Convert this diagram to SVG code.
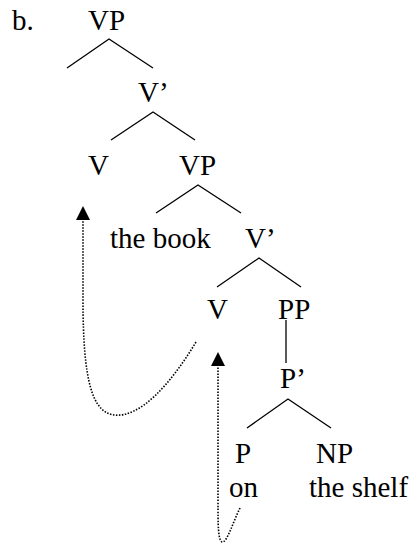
<svg xmlns="http://www.w3.org/2000/svg" width="414" height="546" viewBox="0 0 414 546">
<style>
text{font-family:"Liberation Serif","Times New Roman",serif;font-size:29px;fill:#000}
.e{stroke:#000;stroke-width:1.3;fill:none}
.d{stroke:#000;stroke-width:1.6;fill:none;stroke-dasharray:1.5 1.5}
</style>
<defs>
<marker id="ah" viewBox="0 0 14 14" refX="0" refY="7" markerWidth="14" markerHeight="14" markerUnits="userSpaceOnUse" orient="auto">
<path d="M0,0 L14,7 L0,14 Z" fill="#000"/>
</marker>
</defs>
<text x="12" y="30">b.</text>
<g id="n-vp1"><text x="88" y="30">VP</text></g>
<g id="n-vbar1"><text x="138" y="102">V’</text></g>
<g id="n-v1"><text x="88" y="175">V</text></g>
<g id="n-vp2"><text x="179" y="175">VP</text></g>
<g id="n-thebook"><text x="110" y="248">the book</text></g>
<g id="n-vbar2"><text x="245" y="248">V’</text></g>
<g id="n-v2"><text x="207" y="319">V</text></g>
<g id="n-pp"><text x="278" y="319">PP</text></g>
<g id="n-pbar"><text x="280" y="388">P’</text></g>
<g id="n-p"><text x="235" y="463">P</text></g>
<g id="n-np"><text x="316" y="463">NP</text></g>
<g id="n-on"><text x="229" y="497">on</text></g>
<g id="n-theshelf"><text x="309" y="497">the shelf</text></g>
<g id="connectors">
<path class="e" d="M67,68 L109,39 L153,68"/>
<path class="e" d="M111,140 L153,112 L195,140"/>
<path class="e" d="M156,213 L198,185 L241,213"/>
<path class="e" d="M217,287 L259,258 L301,287"/>
<path class="e" d="M286,320 L286,363"/>
<path class="e" d="M247,428 L288,399 L331,428"/>
<path class="d" d="M196,342 C170,385 140,418 114,415 C92,412 83,380 83,300 L83,220" marker-end="url(#ah)"/>
<path class="d" d="M240,508 C233,522 227,543 222,542 C218,540 218,525 218,500 L218,366" marker-end="url(#ah)"/>
</g>
</svg>
